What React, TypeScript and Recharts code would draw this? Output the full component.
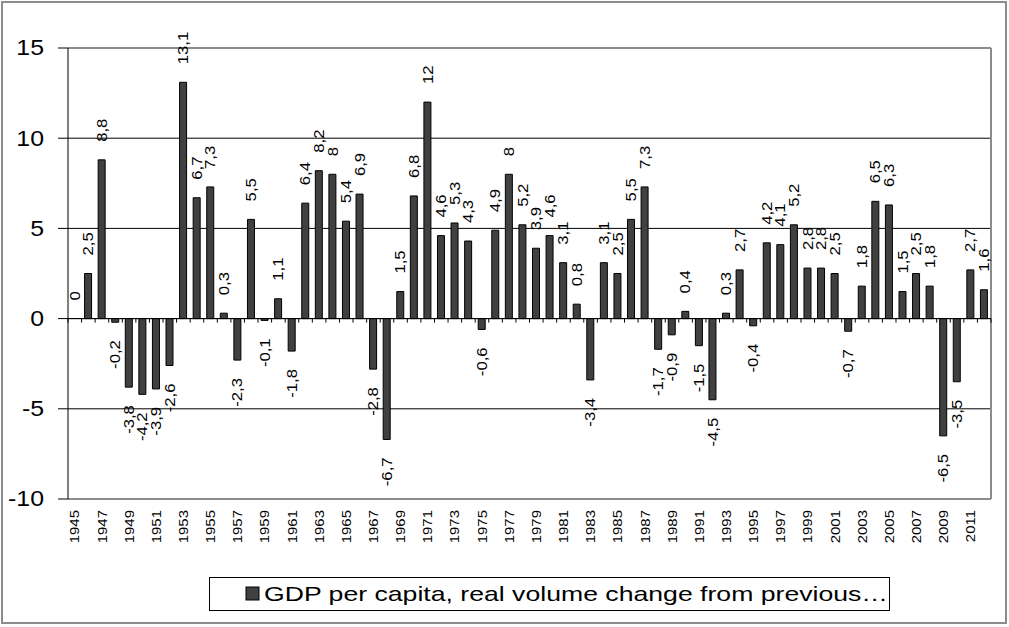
import React from 'react';
import {
  BarChart,
  Bar,
  XAxis,
  YAxis,
  CartesianGrid,
  ReferenceLine,
  ReferenceDot,
  LabelList,
  Legend,
} from 'recharts';

const years = [
  '1945', '1946', '1947', '1948', '1949', '1950', '1951', '1952', '1953', '1954',
  '1955', '1956', '1957', '1958', '1959', '1960', '1961', '1962', '1963', '1964',
  '1965', '1966', '1967', '1968', '1969', '1970', '1971', '1972', '1973', '1974',
  '1975', '1976', '1977', '1978', '1979', '1980', '1981', '1982', '1983', '1984',
  '1985', '1986', '1987', '1988', '1989', '1990', '1991', '1992', '1993', '1994',
  '1995', '1996', '1997', '1998', '1999', '2000', '2001', '2002', '2003', '2004',
  '2005', '2006', '2007', '2008', '2009', '2010', '2011', '2012',
];

const gdpChange = [
  0, 2.5, 8.8, -0.2, -3.8, -4.2, -3.9, -2.6, 13.1, 6.7,
  7.3, 0.3, -2.3, 5.5, -0.1, 1.1, -1.8, 6.4, 8.2, 8,
  5.4, 6.9, -2.8, -6.7, 1.5, 6.8, 12, 4.6, 5.3, 4.3,
  -0.6, 4.9, 8, 5.2, 3.9, 4.6, 3.1, 0.8, -3.4, 3.1,
  2.5, 5.5, 7.3, -1.7, -0.9, 0.4, -1.5, -4.5, 0.3, 2.7,
  -0.4, 4.2, 4.1, 5.2, 2.8, 2.8, 2.5, -0.7, 1.8, 6.5,
  6.3, 1.5, 2.5, 1.8, -6.5, -3.5, 2.7, 1.6,
];

const yTicks = [-10, -5, 0, 5, 10, 15];
const seriesName = 'GDP per capita, real volume change from previous…';

const data = years.map((year, i) => ({ year, i, v: gdpChange[i] }));
const zeroPoints = data.filter((d) => d.v === 0);
const boundaries = Array.from({ length: years.length + 1 }, (_, k) => k);

const FONT = '"Liberation Sans", Arial, sans-serif';
const fmt = (v: number) => String(v).replace('.', ',');
const LABEL_GAP = 18;

const YTick = (props: any) => {
  const { y, payload } = props;
  return (
    <text
      transform={`translate(44, ${y}) scale(1.13, 1)`}
      textAnchor="end"
      dominantBaseline="central"
      fontSize={22}
      fontFamily={FONT}
      fill="#000"
    >
      {payload.value}
    </text>
  );
};

const XTick = (props: any) => {
  const { x, payload } = props;
  return (
    <text
      transform={`translate(${x}, 510) rotate(-90) scale(1.15, 1)`}
      textAnchor="end"
      dominantBaseline="central"
      fontSize={13}
      fontFamily={FONT}
      fill="#000"
    >
      {payload.value}
    </text>
  );
};

const LabelText = ({ cx, ay, pos, value }: any) => (
  <text
    transform={`translate(${cx}, ${ay}) rotate(-90) scale(1.15, 1)`}
    textAnchor={pos ? 'start' : 'end'}
    dominantBaseline="central"
    fontSize={14.5}
    fontFamily={FONT}
    fill="#000"
  >
    {fmt(value)}
  </text>
);

const renderValueLabel = (props: any) => {
  const { x, y, width, height, value } = props;
  const nx = Number(x);
  const ny = Number(y);
  const nh = Number(height) || 0;
  const cx = nx + Number(width) / 2;
  const top = Math.min(ny, ny + nh);
  const bottom = Math.max(ny, ny + nh);
  const pos = Number(value) >= 0;
  const ay = pos ? top - LABEL_GAP : bottom + LABEL_GAP;
  return <LabelText cx={cx} ay={ay} pos={pos} value={Number(value)} />;
};

const LegendContent = () => (
  <div
    style={{
      width: 681,
      height: 34,
      border: '1px solid #000',
      boxSizing: 'border-box',
      background: '#fff',
    }}
  >
    <svg width={679} height={32} style={{ display: 'block' }}>
      <rect x={36} y={9} width={13} height={13} fill="#404040" stroke="#000" strokeWidth={1} />
      <text
        x={54}
        y={23}
        fontSize={21}
        fontFamily={FONT}
        fill="#000"
        textLength={624}
        lengthAdjust="spacingAndGlyphs"
      >
        {seriesName}
      </text>
    </svg>
  </div>
);

export default function App() {
  return (
    <div style={{ position: 'absolute', left: 0, top: 0, width: 1009, height: 627, background: '#fff' }}>
      <div
        style={{
          position: 'absolute',
          left: 1,
          top: 1,
          width: 1006,
          height: 623,
          border: '2px solid #8c8c8c',
          boxSizing: 'border-box',
        }}
      />
      <div style={{ position: 'absolute', left: 0, top: 0 }}>
        <BarChart
          width={1009}
          height={627}
          data={data}
          margin={{ top: 48, right: 18, left: 8, bottom: 58 }}
          barCategoryGap={0}
        >
          <CartesianGrid vertical={false} stroke="#000" strokeWidth={1} />
          <XAxis
            dataKey="year"
            height={70}
            interval={1}
            axisLine={false}
            tickLine={false}
            tick={<XTick />}
          />
          <XAxis
            xAxisId="num"
            dataKey="i"
            type="number"
            domain={[0, years.length]}
            allowDataOverflow
            hide
          />
          <YAxis
            width={60}
            domain={[-10, 15]}
            ticks={yTicks}
            interval={0}
            allowDataOverflow
            axisLine={{ stroke: '#000', strokeWidth: 1 }}
            tickLine={{ stroke: '#000', strokeWidth: 1 }}
            tickSize={10}
            tick={<YTick />}
          />
          <ReferenceLine y={15} stroke="#8c8c8c" strokeWidth={2} />
          <ReferenceLine y={-10} stroke="#8c8c8c" strokeWidth={2} />
          <ReferenceLine
            xAxisId="num"
            segment={[{ x: years.length, y: -10 }, { x: years.length, y: 15 }]}
            stroke="#8c8c8c"
            strokeWidth={2}
          />
          <ReferenceLine y={0} stroke="#000" strokeWidth={1} />
          {boundaries.map((k) => (
            <ReferenceLine
              key={k}
              xAxisId="num"
              segment={[{ x: k, y: 0 }, { x: k, y: -0.22 }]}
              stroke="#000"
              strokeWidth={1}
            />
          ))}
          <Bar
            dataKey="v"
            name={seriesName}
            fill="#404040"
            stroke="#000"
            strokeWidth={1}
            barSize={7}
            isAnimationActive={false}
          >
            <LabelList dataKey="v" content={renderValueLabel} />
          </Bar>
          {zeroPoints.map((d) => (
            <ReferenceDot
              key={d.year}
              x={d.year}
              y={d.v}
              r={0}
              shape={(p: any) => <LabelText cx={p.cx} ay={p.cy - LABEL_GAP} pos value={d.v} />}
            />
          ))}
          <Legend
            layout="vertical"
            align="center"
            verticalAlign="middle"
            wrapperStyle={{ left: 209, top: 577, width: 681, height: 34 }}
            content={<LegendContent />}
          />
        </BarChart>
      </div>
    </div>
  );
}
